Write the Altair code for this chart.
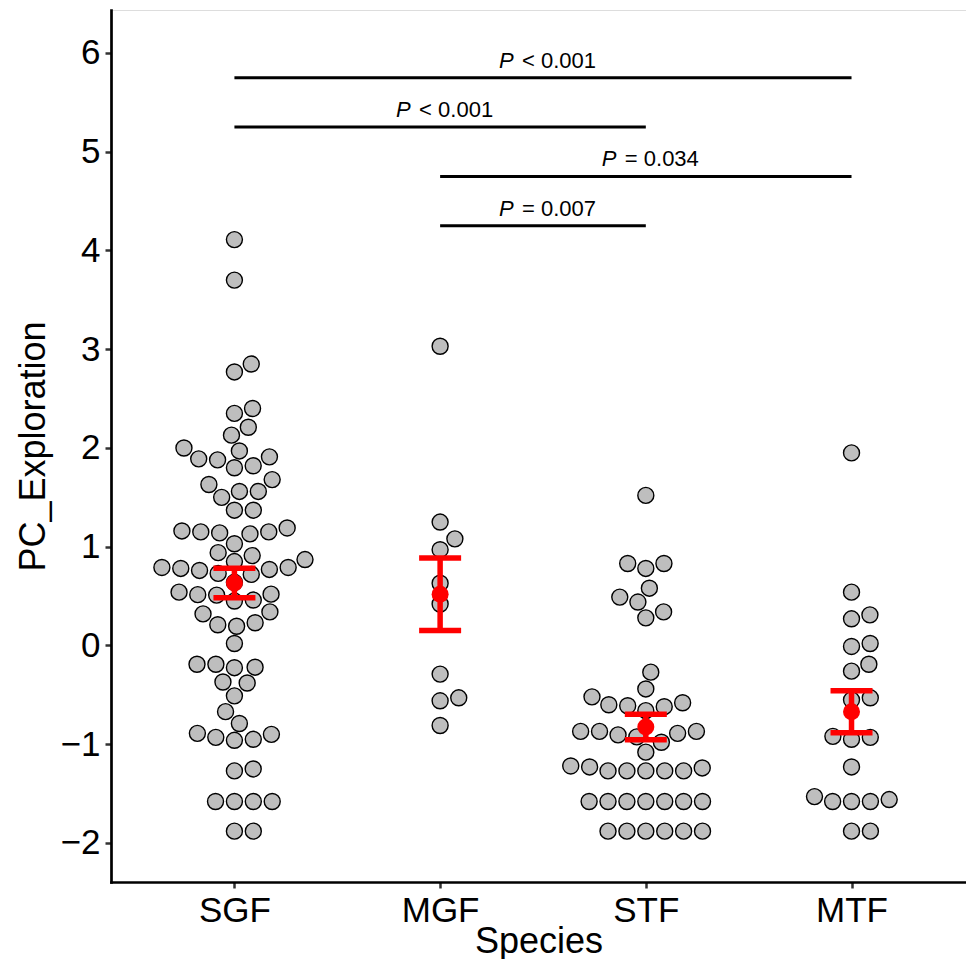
import json
import altair as alt
import numpy as np
import pandas as pd

# ---------------- data ----------------
species = ["SGF", "MGF", "STF", "MTF"]

sgf = [4.11, 3.70, 2.85, 2.77, 2.40, 2.35, 2.21, 2.13, 2.00, 1.97, 1.89, 1.88,
       1.91, 1.80, 1.82, 1.68, 1.63, 1.56, 1.56, 1.50, 1.37, 1.37, 1.19, 1.16,
       1.15, 1.15, 1.14, 1.13, 1.03, 0.94, 0.91, 0.87, 0.85, 0.79, 0.79, 0.78,
       0.77, 0.76, 0.73, 0.72, 0.64, 0.54, 0.52, 0.515, 0.51, 0.46, 0.45, 0.34,
       0.32, 0.23, 0.21, 0.195, 0.02, -0.19, -0.19, -0.22, -0.225, -0.37, -0.38,
       -0.51, -0.67, -0.79, -0.89, -0.90, -0.93, -0.95, -0.96, -1.25, -1.27,
       -1.58, -1.58, -1.58, -1.58, -1.88, -1.88]
mgf = [3.03, 1.25, 1.08, 0.97, 0.63, 0.42, -0.29, -0.53, -0.56, -0.81]
stf = [1.52, 0.83, 0.83, 0.78, 0.58, 0.49, 0.44, 0.34, 0.28, -0.27, -0.44,
       -0.52, -0.58, -0.60, -0.61, -0.62, -0.66, -0.87, -0.87, -0.87, -0.89,
       -0.905, -0.925, -0.98, -1.08, -1.22, -1.23, -1.24, -1.27, -1.27, -1.27,
       -1.27, -1.27, -1.58, -1.58, -1.58, -1.58, -1.58, -1.58, -1.58,
       -1.88, -1.88, -1.88, -1.88, -1.88, -1.88]
mtf = [1.95, 0.54, 0.31, 0.27, 0.02, -0.01, -0.19, -0.26, -0.53, -0.55,
       -0.92, -0.93, -0.95, -1.23, -1.53, -1.56, -1.58, -1.58, -1.58,
       -1.88, -1.88]

# pairwise comparisons
comp_from = ["SGF", "SGF", "MGF", "MGF"]
comp_to = ["MTF", "STF", "MTF", "STF"]
comp_y = [5.75, 5.25, 4.75, 4.25]
comp_text = ["< 0.001", "< 0.001", "= 0.034", "= 0.007"]

# ---------------- layout constants ----------------
PX_X = 205.7            # pixels per category step
W = 855
H = 872
X_DOM = [0.4, 0.4 + W / PX_X]
Y_DOM = [-2.395, 6.435]
PX_Y = H / (Y_DOM[1] - Y_DOM[0])
DX, DY = 18.9, 17.4     # swarm spacing (px) horizontally / vertically
FONT = "Liberation Sans"


def swarm(vals):
    """beeswarm 'swarm' method with ascending priority (as in ggbeeswarm)."""
    vals = np.asarray(vals, dtype=float)
    ys = vals * PX_Y / DY
    xs = np.zeros(len(vals))
    placed = []
    for i in np.argsort(vals, kind="stable"):
        near = [j for j in placed if abs(ys[i] - ys[j]) < 1]
        near.sort(key=lambda j: abs(xs[j]))
        offs = [np.sqrt(1 - (ys[i] - ys[j]) ** 2) for j in near]
        cands = [0.0] + [xs[j] + o for j, o in zip(near, offs)] + \
                [xs[j] - o for j, o in zip(near, offs)]
        good = [c for c in cands
                if all((c - xs[j]) ** 2 + (ys[i] - ys[j]) ** 2 >= 0.999 for j in near)]
        xs[i] = min(good, key=abs)
        placed.append(i)
    return xs * DX


groups = [sgf, mgf, stf, mtf]
rows = []
summ = []
for k, (name, vals) in enumerate(zip(species, groups)):
    off = swarm(vals)
    for v, o in zip(vals, off):
        rows.append({"species": name, "x": k + 1 + o / PX_X, "y": v})
    a = np.asarray(vals)
    m = a.mean()
    se = a.std(ddof=1) / np.sqrt(len(a))
    summ.append({"species": name, "x": k + 1, "y": m, "lo": m - se, "hi": m + se})

pts = pd.DataFrame(rows)
sm = pd.DataFrame(summ)
sig = pd.DataFrame({
    "x": [species.index(s) + 1 for s in comp_from],
    "x2": [species.index(s) + 1 for s in comp_to],
    "y": comp_y,
    "rest": comp_text,
})
sig["xm"] = (sig["x"] + sig["x2"]) / 2
sig["p"] = "P"

# ---------------- encodings ----------------
xscale = alt.Scale(domain=X_DOM, nice=False, zero=False)
yscale = alt.Scale(domain=Y_DOM, nice=False, zero=False)
xaxis = alt.Axis(values=[1, 2, 3, 4], labelExpr=f"{json.dumps(species)}[datum.value - 1]",
                 grid=False, title="Species")
yaxis = alt.Axis(values=list(range(-2, 7)), grid=False, title="PC_Exploration")


def X(field="x"):
    return alt.X(f"{field}:Q", scale=xscale, axis=xaxis)


def Y(field="y"):
    return alt.Y(f"{field}:Q", scale=yscale, axis=yaxis)


points = alt.Chart(pts).mark_point(
    shape="circle", filled=True, fill="#BEBEBE", stroke="black",
    strokeWidth=1.4, size=256, opacity=1, fillOpacity=1
).encode(x=X(), y=Y())

err = alt.Chart(sm).mark_rule(color="red", strokeWidth=5.5).encode(
    x=X(), y=Y("lo"), y2="hi:Q")
cap_lo = alt.Chart(sm).mark_tick(color="red", orient="horizontal", size=42,
                                 thickness=5.5, opacity=1).encode(x=X(), y=Y("lo"))
cap_hi = alt.Chart(sm).mark_tick(color="red", orient="horizontal", size=42,
                                 thickness=5.5, opacity=1).encode(x=X(), y=Y("hi"))
mean_pt = alt.Chart(sm).mark_point(shape="circle", filled=True, color="red",
                                   size=289, opacity=1).encode(x=X(), y=Y())

sig_rule = alt.Chart(sig).mark_rule(color="black", strokeWidth=3).encode(
    x=X(), x2="x2:Q", y=Y())
sig_p = alt.Chart(sig).mark_text(font=FONT, fontSize=22, fontStyle="italic",
                                 align="left", baseline="alphabetic",
                                 dx=-44, dy=-10, color="black").encode(
    x=X("xm"), y=Y(), text="p:N")
sig_t = alt.Chart(sig).mark_text(font=FONT, fontSize=22, align="left",
                                 baseline="alphabetic", dx=-21, dy=-10,
                                 color="black").encode(
    x=X("xm"), y=Y(), text="rest:N")

chart = alt.layer(points, err, cap_lo, cap_hi, mean_pt, sig_rule, sig_p, sig_t).properties(
    width=W, height=H,
    autosize=alt.AutoSizeParams(type="none"),
    padding={"left": 103, "top": 2, "right": 0, "bottom": 77},
).configure_view(stroke=None).configure(background="white").configure_axis(
    domainColor="black", domainWidth=2.7, domainCap="square",
    tickColor="#333333", tickWidth=2.5, tickSize=6,
    labelFont=FONT, labelFontSize=35, labelColor="black", labelPadding=5,
    titleFont=FONT, titleFontSize=36, titleColor="black", titleFontWeight="normal",
).configure_axisX(titlePadding=-4).configure_axisY(titlePadding=8)

chart.save("out.html", embed_options={"renderer": "svg", "actions": False})
